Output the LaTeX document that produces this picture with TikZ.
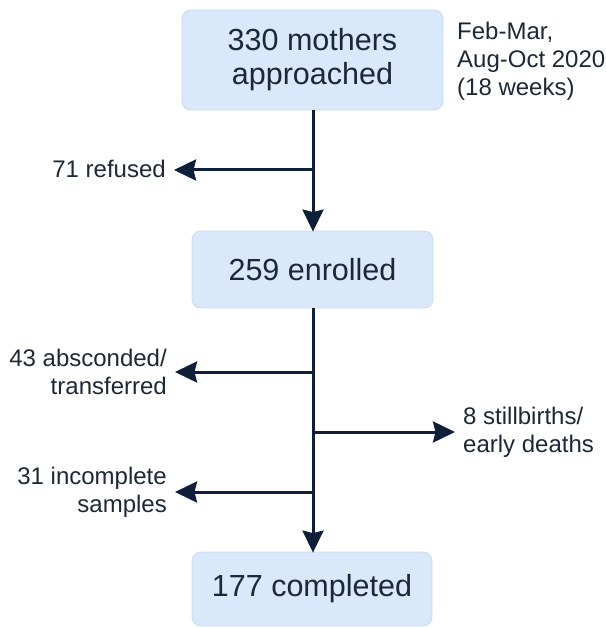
\documentclass[tikz,border=0pt]{standalone}
\usepackage{fontspec}
\setmainfont{Liberation Sans}
\usetikzlibrary{arrows.meta}
\definecolor{boxfill}{HTML}{DAE8FC}
\definecolor{boxline}{HTML}{C9D9EF}
\definecolor{txt}{HTML}{1C2836}
\definecolor{arr}{HTML}{0E1F3A}
\tikzset{
  x=1pt, y=-1pt,
  box/.style={draw=boxline, line width=0.8pt, fill=boxfill, rounded corners=9pt, inner sep=0pt, text=txt,
    font=\fontsize{30.5}{34}\selectfont, align=center},
  lab/.style={text=txt, font=\fontsize{24}{28}\selectfont, inner sep=0pt},
  flow/.style={draw=arr, line width=3pt, -{Stealth[length=22pt,width=21pt,inset=2.5pt]}},
}
\begin{document}
\begin{tikzpicture}
\useasboundingbox (0,0) rectangle (605,628);
\node[box, minimum width=261pt, minimum height=100pt] (a) at (312.5,60) {330 mothers\\approached};
\node[box, minimum width=241pt, minimum height=77pt] (b) at (312.5,269.5) {259 enrolled};
\node[box, minimum width=240pt, minimum height=74pt] (c) at (312,589) {177 completed};
\node[lab, anchor=west, align=left] (date) at (457,61) {Feb-Mar,\\Aug-Oct 2020\\(18 weeks)};
\coordinate (j1) at (313,170);
\coordinate (j2) at (313,372);
\coordinate (j3) at (313,432);
\coordinate (j4) at (313,492);
\node[lab, anchor=east] (ref) at (166,169) {71 refused};
\node[lab, anchor=east, align=right] (abs) at (167,372) {43 absconded/\\transferred};
\node[lab, anchor=west, align=left] (still) at (463,432) {8 stillbirths/\\early deaths};
\node[lab, anchor=east, align=right] (inc) at (167,492) {31 incomplete\\samples};
\draw[flow] (a.south -| j1) -- ([yshift=-1pt]b.north -| j1);
\draw[flow] (j1) -- ([xshift=8pt]ref.east |- j1);
\draw[flow] (b.south -| j2) -- ([yshift=-1pt]c.north -| j2);
\draw[flow] (j2) -- ([xshift=8pt]abs.east |- j2);
\draw[flow] (j3) -- ([xshift=-8pt]still.west |- j3);
\draw[flow] (j4) -- ([xshift=8pt]inc.east |- j4);
\end{tikzpicture}
\end{document}
